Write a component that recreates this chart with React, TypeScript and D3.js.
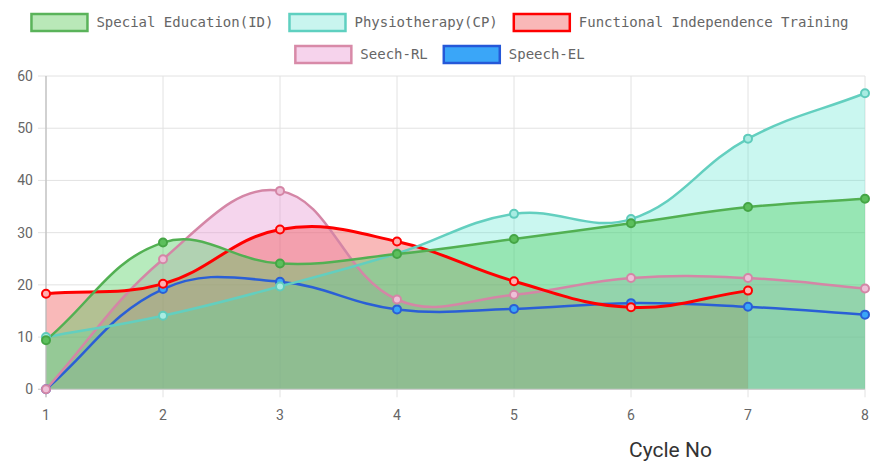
import React from "react";
import * as d3 from "d3";

const cycles = [1, 2, 3, 4, 5, 6, 7, 8];
const yTicks = [0, 10, 20, 30, 40, 50, 60];

const specialEducation = [9.4, 28.1, 24.1, 25.9, 28.8, 31.8, 34.9, 36.5];
const physiotherapy = [10, 14.1, 19.7, 26.0, 33.6, 32.6, 48.0, 56.7];
const functionalIndependence = [18.3, 20.2, 30.6, 28.3, 20.7, 15.7, 18.9];
const seechRL = [0, 24.9, 38.0, 17.2, 18.1, 21.3, 21.3, 19.3];
const speechEL = [0, 19.2, 20.6, 15.3, 15.4, 16.5, 15.8, 14.3];

const seriesNames = [
  "Special Education(ID)",
  "Physiotherapy(CP)",
  "Functional Independence Training",
  "Seech-RL",
  "Speech-EL",
];

const W = 871;
const H = 467;
const left = 46;
const right = 865;
const top = 76;
const bottom = 389.3;

const styles = [
  { fill: "rgba(76,205,90,0.4)", stroke: "#52b052", legendFill: "#b9e8b8", legendStroke: "#5ab35a", pointFill: "#5cbf5c", pointStroke: "#45a545", width: 2.5 },
  { fill: "rgba(78,227,206,0.3)", stroke: "#63cfbf", legendFill: "#c9f5ef", legendStroke: "#5fd0c0", pointFill: "#a8ece2", pointStroke: "#5fcbbb", width: 2.5 },
  { fill: "rgba(240,80,80,0.4)", stroke: "#ff0000", legendFill: "#f9b8b8", legendStroke: "#ff0000", pointFill: "#ffb0b0", pointStroke: "#ff0000", width: 3 },
  { fill: "rgba(230,150,210,0.4)", stroke: "#d486a6", legendFill: "#f6d3ec", legendStroke: "#d88aa8", pointFill: "#eec0d8", pointStroke: "#d486a6", width: 2.5 },
  { fill: "rgba(58,166,248,0.1)", stroke: "#2a5fd6", legendFill: "#3aa6f8", legendStroke: "#2558d8", pointFill: "#3aa6f8", pointStroke: "#2a5fd6", width: 2.5 },
];

const datasets = [specialEducation, physiotherapy, functionalIndependence, seechRL, speechEL];

const x = d3.scaleLinear().domain([1, 8]).range([left, right]);
const y = d3.scaleLinear().domain([0, 60]).range([bottom, top]);

type P = { x: number; y: number };

function splinePath(pts: P[]): string {
  const t = 0.4;
  const cps = pts.map((cur, i) => {
    const prev = i > 0 ? pts[i - 1] : cur;
    const next = i < pts.length - 1 ? pts[i + 1] : cur;
    const d01 = Math.hypot(cur.x - prev.x, cur.y - prev.y);
    const d12 = Math.hypot(next.x - cur.x, next.y - cur.y);
    let s01 = d01 / (d01 + d12);
    let s12 = d12 / (d01 + d12);
    if (isNaN(s01)) s01 = 0;
    if (isNaN(s12)) s12 = 0;
    const fa = t * s01;
    const fb = t * s12;
    const cap = (p: P) => ({
      x: Math.max(left, Math.min(right, p.x)),
      y: Math.max(top, Math.min(bottom, p.y)),
    });
    return {
      prev: cap({ x: cur.x - fa * (next.x - prev.x), y: cur.y - fa * (next.y - prev.y) }),
      next: cap({ x: cur.x + fb * (next.x - prev.x), y: cur.y + fb * (next.y - prev.y) }),
    };
  });
  let d = `M${pts[0].x},${pts[0].y}`;
  for (let i = 1; i < pts.length; i++) {
    const a = cps[i - 1].next;
    const b = cps[i].prev;
    d += `C${a.x},${a.y} ${b.x},${b.y} ${pts[i].x},${pts[i].y}`;
  }
  return d;
}

const monoFont = "'DejaVu Sans Mono', 'Liberation Mono', monospace";
const charW = 8.43;

export default function App() {
  const series = datasets.map((vals) =>
    vals.map((v, i) => ({ x: x(cycles[i]), y: y(v) }))
  );
  const order = [4, 3, 2, 1, 0];

  const rows = [[0, 1, 2], [3, 4]];
  const boxW = 58;
  const boxH = 17;
  const gapText = 8;
  const gapItem = 15;
  const centerX = 439.5;
  const rowY = [22.5, 54.5];

  return (
    <svg width={W} height={H} style={{ position: "absolute", left: 0, top: 0, background: "#fff" }}>
      {yTicks.map((t) => (
        <line key={"gy" + t} x1={left - 8} x2={right} y1={y(t)} y2={y(t)} stroke="#e2e2e2" strokeWidth={1} />
      ))}
      {cycles.map((c) => (
        <line key={"gx" + c} x1={x(c)} x2={x(c)} y1={top} y2={bottom + 8} stroke="#e2e2e2" strokeWidth={1} />
      ))}
      {order.map((k) => {
        const pts = series[k];
        const d =
          splinePath(pts) +
          `L${pts[pts.length - 1].x},${y(0)}L${pts[0].x},${y(0)}Z`;
        return <path key={"f" + k} d={d} fill={styles[k].fill} stroke="none" />;
      })}
      <line x1={left} x2={left} y1={top} y2={bottom + 8} stroke="#bdbdbd" strokeWidth={1.2} />
      <line x1={left - 8} x2={right} y1={bottom} y2={bottom} stroke="#cfcfcf" strokeWidth={1.2} />
      {order.map((k) => (
        <path key={"l" + k} d={splinePath(series[k])} fill="none" stroke={styles[k].stroke} strokeWidth={styles[k].width} />
      ))}
      {order.map((k) =>
        series[k].map((p, i) => (
          <circle key={"p" + k + "-" + i} cx={p.x} cy={p.y} r={4} fill={styles[k].pointFill} stroke={styles[k].pointStroke} strokeWidth={2} />
        ))
      )}
      {yTicks.map((t) => (
        <text key={"yt" + t} x={33} y={y(t)} dy="0.35em" textAnchor="end" fontFamily="Roboto, sans-serif" fontSize={14} fill="#666">
          {t}
        </text>
      ))}
      {cycles.map((c) => (
        <text key={"xt" + c} x={x(c)} y={415} dy="0.35em" textAnchor="middle" fontFamily="Roboto, sans-serif" fontSize={14} fill="#666">
          {c}
        </text>
      ))}
      <text x={629} y={457} fontFamily="Roboto, sans-serif" fontSize={21} fill="#333">
        Cycle No
      </text>
      {rows.map((row, ri) => {
        const widths = row.map((k) => boxW + gapText + seriesNames[k].length * charW);
        const total = widths.reduce((a, b) => a + b, 0) + gapItem * (row.length - 1);
        let cx = centerX - total / 2;
        return row.map((k, j) => {
          const bx = cx;
          cx += widths[j] + gapItem;
          return (
            <g key={"lg" + k}>
              <rect x={bx + 1} y={rowY[ri] - boxH / 2} width={boxW - 2} height={boxH} fill={styles[k].legendFill} stroke={styles[k].legendStroke} strokeWidth={2.5} />
              <text x={bx + boxW + gapText} y={rowY[ri]} dy="0.35em" fontFamily={monoFont} fontSize={14} fill="#666">
                {seriesNames[k]}
              </text>
            </g>
          );
        });
      })}
    </svg>
  );
}
